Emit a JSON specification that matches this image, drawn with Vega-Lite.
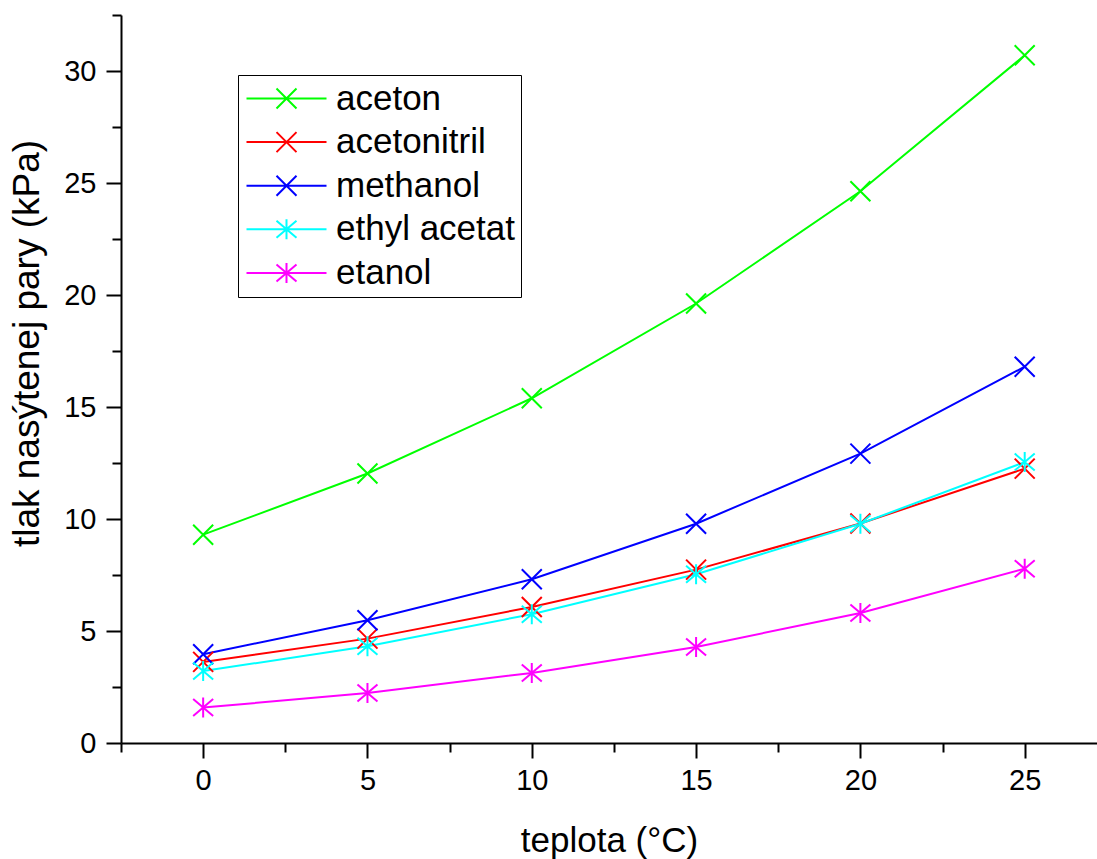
{
  "$schema": "https://vega.github.io/schema/vega-lite/v6.json",
  "width": 976,
  "height": 728,
  "autosize": {"type": "none"},
  "padding": {"left": 121, "top": 15, "right": 0, "bottom": 116},
  "background": "white",
  "config": {
    "view": {"stroke": null},
    "font": "Liberation Sans",
    "axis": {
      "grid": false,
      "domainColor": "black",
      "domainWidth": 2,
      "tickColor": "black",
      "tickWidth": 2,
      "tickSize": 15,
      "labelFont": "Liberation Sans",
      "labelFontSize": 29,
      "labelColor": "black",
      "titleFont": "Liberation Sans",
      "titleFontSize": 35,
      "titleFontWeight": "normal",
      "titleColor": "black"
    },
    "axisX": {"labelPadding": 8},
    "axisY": {"labelPadding": 10}
  },
  "data": {
    "values": [
      {"t": 0, "p": 9.30, "s": "aceton"},
      {"t": 5, "p": 12.03, "s": "aceton"},
      {"t": 10, "p": 15.39, "s": "aceton"},
      {"t": 15, "p": 19.62, "s": "aceton"},
      {"t": 20, "p": 24.63, "s": "aceton"},
      {"t": 25, "p": 30.70, "s": "aceton"},
      {"t": 0, "p": 3.62, "s": "acetonitril"},
      {"t": 5, "p": 4.66, "s": "acetonitril"},
      {"t": 10, "p": 6.07, "s": "acetonitril"},
      {"t": 15, "p": 7.74, "s": "acetonitril"},
      {"t": 20, "p": 9.80, "s": "acetonitril"},
      {"t": 25, "p": 12.25, "s": "acetonitril"},
      {"t": 0, "p": 3.96, "s": "methanol"},
      {"t": 5, "p": 5.48, "s": "methanol"},
      {"t": 10, "p": 7.31, "s": "methanol"},
      {"t": 15, "p": 9.79, "s": "methanol"},
      {"t": 20, "p": 12.92, "s": "methanol"},
      {"t": 25, "p": 16.80, "s": "methanol"},
      {"t": 0, "p": 3.21, "s": "ethyl acetat"},
      {"t": 5, "p": 4.32, "s": "ethyl acetat"},
      {"t": 10, "p": 5.75, "s": "ethyl acetat"},
      {"t": 15, "p": 7.53, "s": "ethyl acetat"},
      {"t": 20, "p": 9.79, "s": "ethyl acetat"},
      {"t": 25, "p": 12.54, "s": "ethyl acetat"},
      {"t": 0, "p": 1.58, "s": "etanol"},
      {"t": 5, "p": 2.23, "s": "etanol"},
      {"t": 10, "p": 3.13, "s": "etanol"},
      {"t": 15, "p": 4.29, "s": "etanol"},
      {"t": 20, "p": 5.80, "s": "etanol"},
      {"t": 25, "p": 7.78, "s": "etanol"}
    ]
  },
  "resolve": {"axis": {"x": "independent", "y": "independent"}},
  "layer": [
    {
      "mark": {"type": "line", "strokeWidth": 2},
      "encoding": {
        "x": {
          "field": "t", "type": "quantitative",
          "scale": {"domain": [-2.5, 27.2], "nice": false, "zero": false},
          "axis": {
            "orient": "bottom",
            "values": [0, 5, 10, 15, 20, 25],
            "title": "teplota (°C)",
            "titlePadding": 28
          }
        },
        "y": {
          "field": "p", "type": "quantitative",
          "scale": {"domain": [0, 32.5], "nice": false},
          "axis": {
            "orient": "left",
            "values": [0, 5, 10, 15, 20, 25, 30],
            "title": "tlak nasýtenej pary (kPa)",
            "titleFontSize": 37,
            "titleX": -83,
            "titleY": 328,
            "titleAngle": -90,
            "titleAlign": "center",
            "titleBaseline": "alphabetic"
          }
        },
        "color": {
          "field": "s", "type": "nominal",
          "scale": {
            "domain": ["aceton", "acetonitril", "methanol", "ethyl acetat", "etanol"],
            "range": ["#00FF00", "#FF0000", "#0000FF", "#00FFFF", "#FF00FF"]
          },
          "legend": {
            "orient": "none",
            "legendX": 117,
            "legendY": 60,
            "title": null,
            "strokeColor": "black",
            "fillColor": "white",
            "padding": 6,
            "labelFont": "Liberation Sans",
            "labelFontSize": 35,
            "labelColor": "black",
            "labelOffset": 57,
            "labelLimit": 0,
            "rowPadding": 7.6,
            "symbolSize": 400,
            "symbolStrokeWidth": 2,
            "encode": {
              "symbols": {
                "update": {
                  "shape": {"signal": "(datum.value === 'ethyl acetat' || datum.value === 'etanol') ? 'M-1.5,0L6.5,0M2.5,-1L2.5,1M1.5,-0.85L3.5,0.85M1.5,0.85L3.5,-0.85' : 'M-1.5,0L6.5,0M1.5,-1L3.5,1M1.5,1L3.5,-1'"},
                  "fill": {"value": "transparent"},
                  "strokeWidth": {"value": 2}
                }
              }
            }
          }
        },
        "order": {"field": "t", "type": "quantitative"}
      }
    },
    {
      "transform": [{"filter": {"field": "s", "oneOf": ["aceton", "acetonitril", "methanol"]}}],
      "mark": {"type": "point", "filled": false, "strokeWidth": 2, "size": 400, "opacity": 1, "shape": "M-1,-1L1,1M-1,1L1,-1"},
      "encoding": {
        "x": {
          "field": "t", "type": "quantitative",
          "axis": {
            "orient": "bottom",
            "values": [-2.5, 2.5, 7.5, 12.5, 17.5, 22.5],
            "labels": false,
            "domain": false,
            "tickSize": 9,
            "title": null
          }
        },
        "y": {
          "field": "p", "type": "quantitative",
          "axis": {
            "orient": "left",
            "values": [2.5, 7.5, 12.5, 17.5, 22.5, 27.5, 32.5],
            "labels": false,
            "domain": false,
            "tickSize": 9,
            "title": null
          }
        },
        "color": {"field": "s", "type": "nominal"}
      }
    },
    {
      "transform": [{"filter": {"field": "s", "oneOf": ["ethyl acetat", "etanol"]}}],
      "mark": {"type": "point", "filled": false, "strokeWidth": 2, "size": 400, "opacity": 1, "shape": "M0,-1L0,1M-1,-0.85L1,0.85M-1,0.85L1,-0.85"},
      "encoding": {
        "x": {"field": "t", "type": "quantitative", "axis": null},
        "y": {"field": "p", "type": "quantitative", "axis": null},
        "color": {"field": "s", "type": "nominal"}
      }
    }
  ]
}
